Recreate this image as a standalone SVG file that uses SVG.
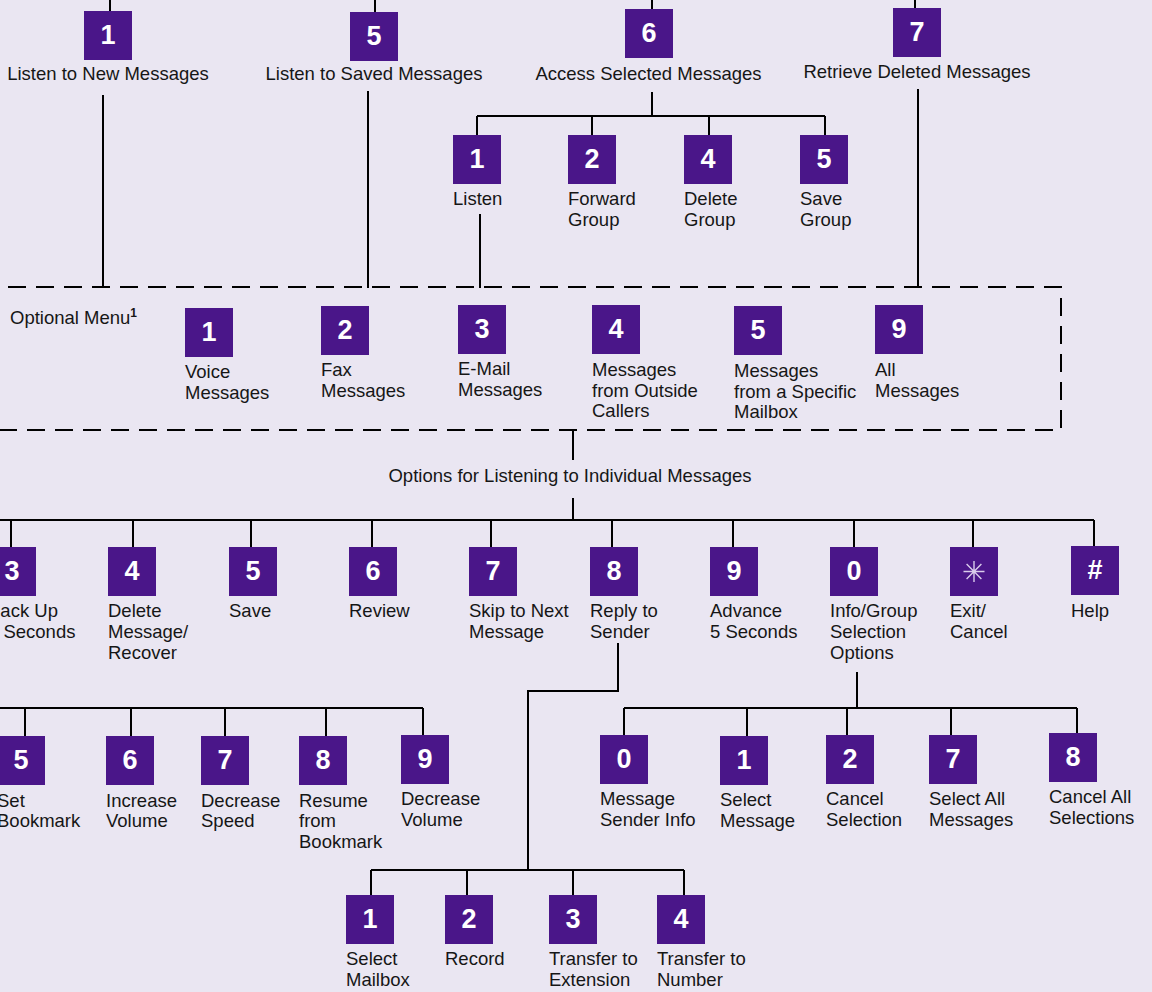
<svg xmlns="http://www.w3.org/2000/svg" width="1152" height="992" viewBox="0 0 1152 992">
<style>
.bg{fill:#EAE6F2}
.box{fill:#4A1689}
.num{font-family:"Liberation Sans",Arial,sans-serif;font-weight:bold;font-size:27px;fill:#FFFFFF;text-anchor:middle}
.lbl{font-family:"Liberation Sans",Arial,sans-serif;font-size:18.5px;fill:#161616}
.ctr{text-anchor:middle}
.ln{fill:none;stroke:#000;stroke-width:2}
.dash{fill:none;stroke:#000;stroke-width:2;stroke-dasharray:18 10}
.ast{stroke:#D9CCEB;stroke-width:1.4}
</style>
<rect class="bg" x="0" y="0" width="1152" height="992"/>

<g id="connectors">
  <path class="ln" d="M110 0V11M375 0V12M652 0V9M915 0V8"/>
  <path class="ln" d="M103 95V288M368 91V288M480 214V288M918 89V288"/>
  <path class="ln" d="M652 92V116M477 116H825M477 116V135M592 116V135M709 116V135M825 116V135"/>
  <rect id="optional-menu-frame" class="dash" x="-20" y="287" width="1081" height="143"/>
  <path class="ln" d="M573 430V460M573 498V520M0 520H1094"/>
  <path class="ln" d="M11 520V547M133 520V547M251 520V547M372 520V547M491 520V547M612 520V547M733 520V547M854 520V547M973 520V547M1094 520V546"/>
  <path class="ln" d="M0 708H423M25 708V736M131 708V736M225 708V736M326 708V736M423 708V735"/>
  <path class="ln" d="M618 643V691H528V870M371 870H684M371 870V895M467 870V895M573 870V895M684 870V895"/>
  <path class="ln" d="M857 672V708M624 708H1077M624 708V735M747 708V736M847 708V735M951 708V735M1077 708V733"/>
</g>

<!-- Top row -->
<g id="top-1"><rect class="box" x="84" y="11" width="48" height="49"/><text class="num" x="108" y="44">1</text><text class="lbl ctr" x="108" y="80">Listen to New Messages</text></g>
<g id="top-5"><rect class="box" x="350" y="12" width="48" height="49"/><text class="num" x="374" y="45">5</text><text class="lbl ctr" x="374" y="80">Listen to Saved Messages</text></g>
<g id="top-6"><rect class="box" x="625" y="9" width="48" height="49"/><text class="num" x="649" y="42">6</text><text class="lbl ctr" x="648.5" y="80">Access Selected Messages</text></g>
<g id="top-7"><rect class="box" x="893" y="8" width="48" height="49"/><text class="num" x="917" y="41">7</text><text class="lbl ctr" x="917" y="78">Retrieve Deleted Messages</text></g>

<!-- Access selected sub-options -->
<g id="sel-1"><rect class="box" x="453" y="135" width="48" height="49"/><text class="num" x="477" y="168">1</text><text class="lbl" x="453" y="205">Listen</text></g>
<g id="sel-2"><rect class="box" x="568" y="135" width="48" height="49"/><text class="num" x="592" y="168">2</text><text class="lbl" y="205"><tspan x="568">Forward</tspan><tspan x="568" dy="21">Group</tspan></text></g>
<g id="sel-4"><rect class="box" x="684" y="135" width="48" height="49"/><text class="num" x="708" y="168">4</text><text class="lbl" y="205"><tspan x="684">Delete</tspan><tspan x="684" dy="21">Group</tspan></text></g>
<g id="sel-5"><rect class="box" x="800" y="135" width="48" height="49"/><text class="num" x="824" y="168">5</text><text class="lbl" y="205"><tspan x="800">Save</tspan><tspan x="800" dy="21">Group</tspan></text></g>

<!-- Optional menu -->
<g id="optional-menu-title"><text class="lbl" x="10" y="324">Optional Menu<tspan font-weight="bold" font-size="12" dy="-7">1</tspan></text></g>
<g id="opt-1"><rect class="box" x="185" y="308" width="48" height="49"/><text class="num" x="209" y="341">1</text><text class="lbl" y="378"><tspan x="185">Voice</tspan><tspan x="185" dy="21">Messages</tspan></text></g>
<g id="opt-2"><rect class="box" x="321" y="306" width="48" height="49"/><text class="num" x="345" y="339">2</text><text class="lbl" y="376"><tspan x="321">Fax</tspan><tspan x="321" dy="21">Messages</tspan></text></g>
<g id="opt-3"><rect class="box" x="458" y="305" width="48" height="49"/><text class="num" x="482" y="338">3</text><text class="lbl" y="375"><tspan x="458">E-Mail</tspan><tspan x="458" dy="21">Messages</tspan></text></g>
<g id="opt-4"><rect class="box" x="592" y="305" width="48" height="49"/><text class="num" x="616" y="338">4</text><text class="lbl" y="376"><tspan x="592">Messages</tspan><tspan x="592" dy="21">from Outside</tspan><tspan x="592" dy="20">Callers</tspan></text></g>
<g id="opt-5"><rect class="box" x="734" y="306" width="48" height="49"/><text class="num" x="758" y="339">5</text><text class="lbl" y="377"><tspan x="734">Messages</tspan><tspan x="734" dy="21">from a Specific</tspan><tspan x="734" dy="20">Mailbox</tspan></text></g>
<g id="opt-9"><rect class="box" x="875" y="305" width="48" height="49"/><text class="num" x="899" y="338">9</text><text class="lbl" y="376"><tspan x="875">All</tspan><tspan x="875" dy="21">Messages</tspan></text></g>

<g id="options-title"><text class="lbl ctr" x="570" y="482">Options for Listening to Individual Messages</text></g>

<!-- Listening options row -->
<g id="lo-3"><rect class="box" x="-12" y="547" width="48" height="49"/><text class="num" x="12" y="580">3</text><text class="lbl" y="617"><tspan x="-12">Back Up</tspan><tspan x="-12" dy="21">5 Seconds</tspan></text></g>
<g id="lo-4"><rect class="box" x="108" y="547" width="48" height="49"/><text class="num" x="132" y="580">4</text><text class="lbl" y="617"><tspan x="108">Delete</tspan><tspan x="108" dy="21">Message/</tspan><tspan x="108" dy="21">Recover</tspan></text></g>
<g id="lo-5"><rect class="box" x="229" y="547" width="48" height="49"/><text class="num" x="253" y="580">5</text><text class="lbl" x="229" y="617">Save</text></g>
<g id="lo-6"><rect class="box" x="349" y="547" width="48" height="49"/><text class="num" x="373" y="580">6</text><text class="lbl" x="349" y="617">Review</text></g>
<g id="lo-7"><rect class="box" x="469" y="547" width="48" height="49"/><text class="num" x="493" y="580">7</text><text class="lbl" y="617"><tspan x="469">Skip to Next</tspan><tspan x="469" dy="21">Message</tspan></text></g>
<g id="lo-8"><rect class="box" x="590" y="547" width="48" height="49"/><text class="num" x="614" y="580">8</text><text class="lbl" y="617"><tspan x="590">Reply to</tspan><tspan x="590" dy="21">Sender</tspan></text></g>
<g id="lo-9"><rect class="box" x="710" y="547" width="48" height="49"/><text class="num" x="734" y="580">9</text><text class="lbl" y="617"><tspan x="710">Advance</tspan><tspan x="710" dy="21">5 Seconds</tspan></text></g>
<g id="lo-0"><rect class="box" x="830" y="547" width="48" height="49"/><text class="num" x="854" y="580">0</text><text class="lbl" y="617"><tspan x="830">Info/Group</tspan><tspan x="830" dy="21">Selection</tspan><tspan x="830" dy="21">Options</tspan></text></g>
<g id="lo-star"><rect class="box" x="950" y="547" width="48" height="49"/><path class="ast" d="M974 561V582M963.5 571.5H984.5M966.6 564.1L981.4 578.9M966.6 578.9L981.4 564.1"/><text class="lbl" y="617"><tspan x="950">Exit/</tspan><tspan x="950" dy="21">Cancel</tspan></text></g>
<g id="lo-hash"><rect class="box" x="1071" y="546" width="48" height="49"/><text class="num" x="1095" y="579">#</text><text class="lbl" x="1071" y="617">Help</text></g>

<!-- Left sub-options -->
<g id="bk-5"><rect class="box" x="-3" y="736" width="48" height="49"/><text class="num" x="21" y="769">5</text><text class="lbl" y="807"><tspan x="-3">Set</tspan><tspan x="-3" dy="20">Bookmark</tspan></text></g>
<g id="bk-6"><rect class="box" x="106" y="736" width="48" height="49"/><text class="num" x="130" y="769">6</text><text class="lbl" y="807"><tspan x="106">Increase</tspan><tspan x="106" dy="20">Volume</tspan></text></g>
<g id="bk-7"><rect class="box" x="201" y="736" width="48" height="49"/><text class="num" x="225" y="769">7</text><text class="lbl" y="807"><tspan x="201">Decrease</tspan><tspan x="201" dy="20">Speed</tspan></text></g>
<g id="bk-8"><rect class="box" x="299" y="736" width="48" height="49"/><text class="num" x="323" y="769">8</text><text class="lbl" y="807"><tspan x="299">Resume</tspan><tspan x="299" dy="20">from</tspan><tspan x="299" dy="21">Bookmark</tspan></text></g>
<g id="bk-9"><rect class="box" x="401" y="735" width="48" height="49"/><text class="num" x="425" y="768">9</text><text class="lbl" y="805"><tspan x="401">Decrease</tspan><tspan x="401" dy="21">Volume</tspan></text></g>

<!-- Info/Group sub-options -->
<g id="ig-0"><rect class="box" x="600" y="735" width="48" height="49"/><text class="num" x="624" y="768">0</text><text class="lbl" y="805"><tspan x="600">Message</tspan><tspan x="600" dy="21">Sender Info</tspan></text></g>
<g id="ig-1"><rect class="box" x="720" y="736" width="48" height="49"/><text class="num" x="744" y="769">1</text><text class="lbl" y="806"><tspan x="720">Select</tspan><tspan x="720" dy="21">Message</tspan></text></g>
<g id="ig-2"><rect class="box" x="826" y="735" width="48" height="49"/><text class="num" x="850" y="768">2</text><text class="lbl" y="805"><tspan x="826">Cancel</tspan><tspan x="826" dy="21">Selection</tspan></text></g>
<g id="ig-7"><rect class="box" x="929" y="735" width="48" height="49"/><text class="num" x="953" y="768">7</text><text class="lbl" y="805"><tspan x="929">Select All</tspan><tspan x="929" dy="21">Messages</tspan></text></g>
<g id="ig-8"><rect class="box" x="1049" y="733" width="48" height="49"/><text class="num" x="1073" y="766">8</text><text class="lbl" y="803"><tspan x="1049">Cancel All</tspan><tspan x="1049" dy="21">Selections</tspan></text></g>

<!-- Reply sub-options -->
<g id="rp-1"><rect class="box" x="346" y="895" width="48" height="49"/><text class="num" x="370" y="928">1</text><text class="lbl" y="965"><tspan x="346">Select</tspan><tspan x="346" dy="21">Mailbox</tspan></text></g>
<g id="rp-2"><rect class="box" x="445" y="895" width="48" height="49"/><text class="num" x="469" y="928">2</text><text class="lbl" x="445" y="965">Record</text></g>
<g id="rp-3"><rect class="box" x="549" y="895" width="48" height="49"/><text class="num" x="573" y="928">3</text><text class="lbl" y="965"><tspan x="549">Transfer to</tspan><tspan x="549" dy="21">Extension</tspan></text></g>
<g id="rp-4"><rect class="box" x="657" y="895" width="48" height="49"/><text class="num" x="681" y="928">4</text><text class="lbl" y="965"><tspan x="657">Transfer to</tspan><tspan x="657" dy="21">Number</tspan></text></g>
</svg>
